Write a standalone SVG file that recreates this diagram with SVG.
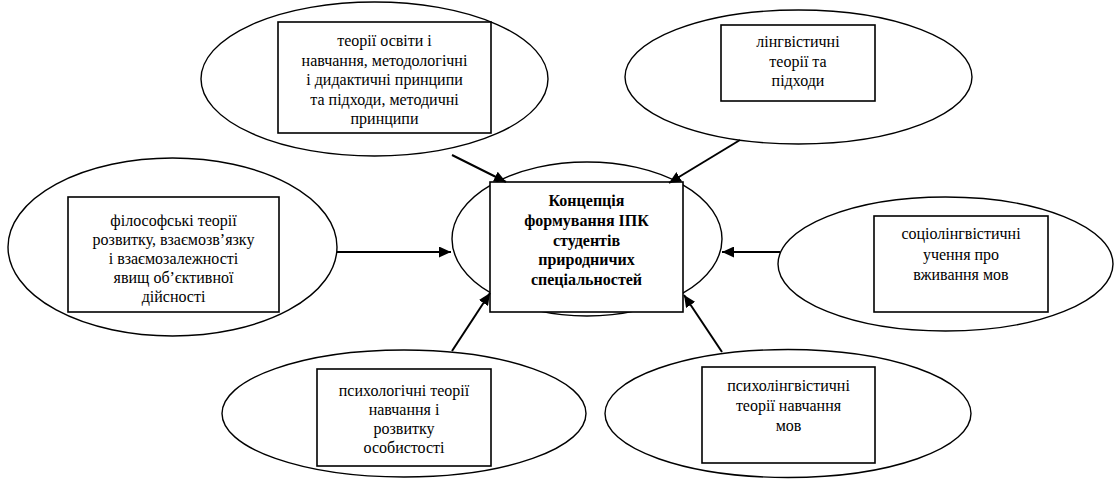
<svg xmlns="http://www.w3.org/2000/svg" width="1114" height="479" viewBox="0 0 1114 479">
<style>
  .ell { fill: #ffffff; stroke: #000000; stroke-width: 1.4; }
  .box { fill: #ffffff; stroke: #000000; stroke-width: 1.6; }
  .t { font-family: "Liberation Serif", "Times New Roman", serif; font-size: 16px; fill: #000000; text-anchor: middle; }
  .b { font-weight: bold; }
  .arr { stroke: #000000; stroke-width: 2; fill: none; marker-end: url(#ah); }
</style>
<defs>
  <marker id="ah" markerUnits="userSpaceOnUse" markerWidth="13" markerHeight="11" refX="12" refY="5.5" orient="auto" viewBox="0 0 13 11">
    <path d="M0,0 L12,5.5 L0,11 z" fill="#000000"/>
  </marker>
</defs>
<rect width="1114" height="479" fill="#ffffff"/>

<g id="node-center">
  <ellipse class="ell" cx="587" cy="239" rx="135" ry="77"/>
  <rect class="box" x="490" y="182" width="193" height="130"/>
  <text class="t b" x="586.5" y="206">Концепція</text>
  <text class="t b" x="586.5" y="226">формування ІПК</text>
  <text class="t b" x="586.5" y="245.5">студентів</text>
  <text class="t b" x="586.5" y="265">природничих</text>
  <text class="t b" x="586.5" y="284.5">спеціальностей</text>
</g>

<g id="node-top-left">
  <ellipse class="ell" cx="374.5" cy="79" rx="173.5" ry="77"/>
  <rect class="box" x="278" y="22" width="213" height="111"/>
  <text class="t" x="384.5" y="46">теорії освіти і</text>
  <text class="t" x="384.5" y="65.5">навчання, методологічні</text>
  <text class="t" x="384.5" y="85">і дидактичні принципи</text>
  <text class="t" x="384.5" y="104.5">та підходи, методичні</text>
  <text class="t" x="384.5" y="124">принципи</text>
</g>

<g id="node-top-right">
  <ellipse class="ell" cx="798.5" cy="77" rx="173.5" ry="67"/>
  <rect class="box" x="721" y="25" width="154" height="76"/>
  <text class="t" x="798" y="47">лінгвістичні</text>
  <text class="t" x="798" y="66.5">теорії та</text>
  <text class="t" x="798" y="86">підходи</text>
</g>

<g id="node-left">
  <ellipse class="ell" cx="172.5" cy="247" rx="164.5" ry="89"/>
  <rect class="box" x="68" y="197" width="211" height="115"/>
  <text class="t" x="173.5" y="226">філософські теорії</text>
  <text class="t" x="173.5" y="245">розвитку, взаємозв’язку</text>
  <text class="t" x="173.5" y="264">і взаємозалежності</text>
  <text class="t" x="173.5" y="283">явищ об’єктивної</text>
  <text class="t" x="173.5" y="302">дійсності</text>
</g>

<g id="node-right">
  <ellipse class="ell" cx="945.5" cy="264" rx="167.5" ry="67"/>
  <rect class="box" x="874" y="216" width="174" height="96"/>
  <text class="t" x="961" y="239">соціолінгвістичні</text>
  <text class="t" x="961" y="259.5">учення про</text>
  <text class="t" x="961" y="280">вживання мов</text>
</g>

<g id="node-bottom-left">
  <ellipse class="ell" cx="404" cy="413.5" rx="182" ry="63.5"/>
  <rect class="box" x="317" y="369" width="174" height="97"/>
  <text class="t" x="404" y="396">психологічні теорії</text>
  <text class="t" x="404" y="415">навчання і</text>
  <text class="t" x="404" y="434">розвитку</text>
  <text class="t" x="404" y="453">особистості</text>
</g>

<g id="node-bottom-right">
  <ellipse class="ell" cx="788" cy="413.5" rx="183" ry="64"/>
  <rect class="box" x="702" y="367" width="173" height="96"/>
  <text class="t" x="788.5" y="391">психолінгвістичні</text>
  <text class="t" x="788.5" y="411">теорії навчання</text>
  <text class="t" x="788.5" y="431">мов</text>
</g>

<g id="connectors">
  <line class="arr" x1="452" y1="155" x2="506" y2="182"/>
  <line class="arr" x1="740" y1="140" x2="669" y2="183"/>
  <line class="arr" x1="337" y1="252" x2="451" y2="252"/>
  <line class="arr" x1="780" y1="252" x2="722" y2="252"/>
  <line class="arr" x1="452" y1="351" x2="490" y2="293"/>
  <line class="arr" x1="722" y1="352" x2="684" y2="295"/>
</g>
</svg>
